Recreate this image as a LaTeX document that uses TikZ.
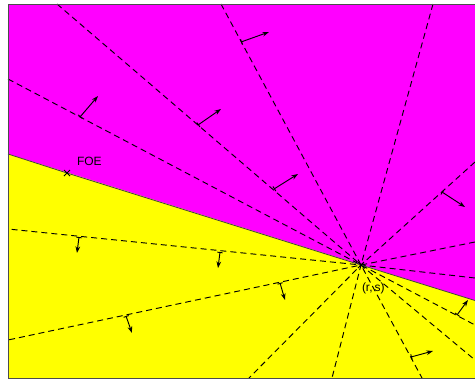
\documentclass[tikz,border=0pt]{standalone}
\usepackage{fontspec}
\setmainfont{Liberation Sans}
\usepackage{tikz}
\usetikzlibrary{arrows.meta}

\definecolor{upperfill}{RGB}{255,0,255}
\definecolor{lowerfill}{RGB}{255,255,0}

\begin{document}
\begin{tikzpicture}[x={(0.75pt,0pt)},y={(0pt,-0.75pt)},
  every node/.style={inner sep=0pt, outer sep=0pt, font=\fontsize{9}{11}\selectfont},
  ray/.style={black, line width=0.7pt, dash pattern=on 4.5pt off 3pt},
  flow/.style={black, line width=0.7pt, {Bar[width=4pt]}-{Stealth[length=5pt,width=3.5pt]}},
  cross/.style={black, line width=0.7pt}]
\useasboundingbox (0,0) rectangle (475,379);
% regions
\fill[upperfill] (8,4) -- (475,4) -- (475,300.5) -- (8,154) -- cycle;
\fill[lowerfill] (8,154) -- (475,300.5) -- (475,378) -- (8,378) -- cycle;
\coordinate (rs) at (361,265);
\coordinate (foe) at (67,173);
% rays through (r,s)
\draw[ray] (8,79) -- (rs) -- (475,325);
\draw[ray] (57,4) -- (rs) -- (475,360);
\draw[ray] (221,4) -- (rs) -- (422,378);
\draw[ray] (433,4) -- (rs) -- (332,378);
\draw[ray] (475,162) -- (rs) -- (249,378);
\draw[ray] (475,242) -- (rs) -- (8,340);
\draw[ray] (475,278) -- (rs) -- (8,229);
% boundary between the two regions
\draw[black!75, line width=0.6pt] (8,154) -- (foe) -- (rs) -- (475,300.5);
% normal flow
\draw[flow] (80,117) -- (98,96);
\draw[flow] (198,125) -- (221,109);
\draw[flow] (241,42) -- (269,32);
\draw[flow] (274,189) -- (298,174);
\draw[flow] (442,192) -- (465,207);
\draw[flow] (457,315) -- (468,300);
\draw[flow] (411,357) -- (433,351);
\draw[flow] (280,283) -- (285,300);
\draw[flow] (79,237) -- (77,253);
\draw[flow] (220,252) -- (218,268);
\draw[flow] (126,316) -- (132,333);
% markers
\draw[cross] ([shift={(-3,-3)}]foe) -- ([shift={(3,3)}]foe) ([shift={(-3,3)}]foe) -- ([shift={(3,-3)}]foe);
\draw[cross] ([shift={(-3,-3)}]rs) -- ([shift={(3,3)}]rs) ([shift={(-3,3)}]rs) -- ([shift={(3,-3)}]rs);
\node[anchor=base west] (foelabel) at (77,165) {FOE};
\node[anchor=base west] (rslabel) at (362,291) {(r,\,s)};
% frame
\draw[black!70, line width=0.7pt] (475,4) -- (8,4) -- (8,378) -- (475,378);
\end{tikzpicture}
\end{document}
